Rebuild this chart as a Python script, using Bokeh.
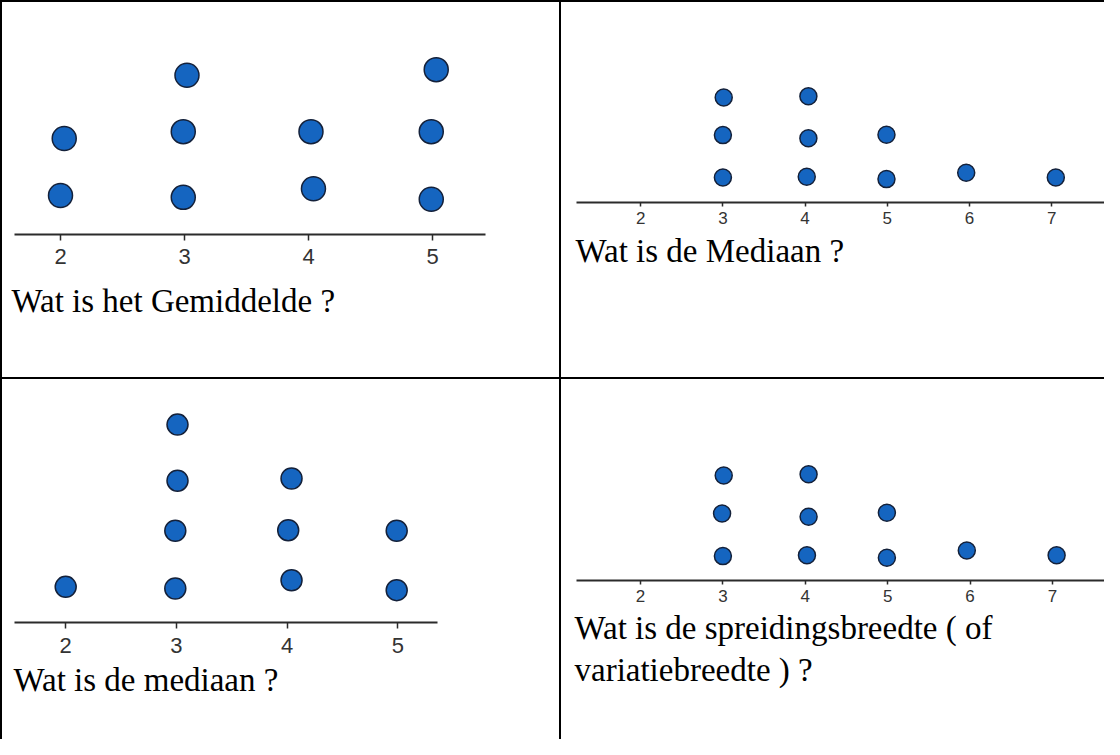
from bokeh.plotting import figure
from bokeh.layouts import column, row
from bokeh.models import Spacer, Title, Range1d, FixedTicker
from bokeh.embed import file_html
from bokeh.resources import INLINE

# ---- data (value on the number line, stack level) ----
q1_x = [2.00, 2.03, 2.99, 2.99, 3.02, 4.04, 4.02, 4.99, 4.99, 5.03]
q1_y = [1.00, 1.92, 0.97, 2.03, 2.94, 1.11, 2.03, 0.94, 2.03, 3.03]
q1_ticks = [2, 3, 4, 5]
q1_text = ["Wat is het Gemiddelde ?"]

q2_x = [3.00, 3.00, 3.01, 4.02, 4.04, 4.04, 4.99, 4.99, 5.96, 7.05]
q2_y = [1.00, 2.06, 3.00, 1.02, 1.98, 3.03, 0.96, 2.07, 1.12, 1.00]
q2_ticks = [2, 3, 4, 5, 6, 7]
q2_text = ["Wat is de Mediaan ?"]

q3_x = [2.00, 2.99, 2.99, 3.01, 3.01, 4.04, 4.01, 4.04, 4.99, 4.99]
q3_y = [1.03, 1.00, 2.05, 2.96, 3.98, 1.15, 2.06, 3.00, 0.97, 2.05]
q3_ticks = [2, 3, 4, 5]
q3_text = ["Wat is de mediaan ?"]

q4_x = [3.00, 2.99, 3.01, 4.02, 4.04, 4.04, 4.99, 4.99, 5.96, 7.05]
q4_y = [1.00, 2.05, 2.99, 1.02, 1.97, 3.02, 0.96, 2.07, 1.14, 1.02]
q4_ticks = [2, 3, 4, 5, 6, 7]
q4_text = ["Wat is de spreidingsbreedte ( of", "variatiebreedte ) ?"]

DOT_FILL = "#1565c0"
DOT_LINE = "#14213a"
LINE = 2
TOP_H, BOT_H = 375, 360
LEFT_W, RIGHT_W = 557, 543


def panel(xs, ys, ticks, texts, w, h, cell_left, cell_top, tick2_px, ppu,
          axis_px, lvl_px, lvl1_px, ax0_px, ax1_px, dot, lab_size, tick_out,
          lab_standoff, text_offset, text_standoff):
    x0 = 2 - (tick2_px - cell_left) / ppu
    x1 = x0 + w / ppu
    frame_h = axis_px - cell_top
    y0 = 1 - lvl1_px / lvl_px
    y1 = y0 + frame_h / lvl_px
    p = figure(width=w, height=h, x_range=Range1d(x0, x1), y_range=Range1d(y0, y1),
               output_backend="svg", toolbar_location=None,
               x_axis_location="below", y_axis_location=None,
               min_border_left=0, min_border_right=0, min_border_top=0,
               min_border_bottom=h - frame_h)
    p.outline_line_color = None
    p.grid.visible = False
    p.background_fill_color = "white"
    p.border_fill_color = "white"
    ax = p.xaxis[0]
    ax.ticker = FixedTicker(ticks=ticks)
    ax.bounds = (x0 + (ax0_px - cell_left) / ppu, x0 + (ax1_px - cell_left) / ppu)
    ax.axis_line_color = "#2b2b2b"
    ax.axis_line_width = 2
    ax.major_tick_line_color = "#2b2b2b"
    ax.major_tick_line_width = 1.5
    ax.major_tick_in = 0
    ax.major_tick_out = tick_out
    ax.minor_tick_line_color = None
    ax.major_label_text_font = "Liberation Sans"
    ax.major_label_text_font_size = f"{lab_size}px"
    ax.major_label_text_color = "#333333"
    ax.major_label_standoff = lab_standoff
    p.scatter(xs, ys, size=dot, fill_color=DOT_FILL, line_color=DOT_LINE, line_width=1.5)
    for i, t in enumerate(texts):
        p.add_layout(Title(text=t, align="left", offset=text_offset,
                           text_font="Liberation Serif", text_font_size="33px",
                           text_font_style="normal", text_color="black",
                           standoff=text_standoff if i == 0 else 0), "below")
    return p


p1 = panel(q1_x, q1_y, q1_ticks, q1_text, LEFT_W, TOP_H, 10, 10, 68, 124,
           242, 62, 39, 22, 493, 24, 22, 6, 8, 9, 28)
p2 = panel(q2_x, q2_y, q2_ticks, q2_text, RIGHT_W, TOP_H, 569, 10, 648.2, 82.2,
           210, 40, 25, 584, 1120, 17, 17, 4, 5, 14, 9)
p3 = panel(q3_x, q3_y, q3_ticks, q3_text, LEFT_W, BOT_H, 10, 387, 73.2, 110.7,
           630, 55, 34, 22, 445, 21, 22, 6, 9, 11, 9)
p4 = panel(q4_x, q4_y, q4_ticks, q4_text, RIGHT_W, BOT_H, 569, 387, 648, 82.4,
           588, 40.5, 24.4, 584, 1120, 17, 17, 4, 5, 13, 7)


def bar(w, h):
    return Spacer(width=w, height=h, styles={"background-color": "black"})


FULL_H = TOP_H + LINE + BOT_H
layout = column(
    bar(LINE + LEFT_W + LINE + RIGHT_W, LINE),
    row(bar(LINE, FULL_H),
        column(p1, bar(LEFT_W, LINE), p3),
        bar(LINE, FULL_H),
        column(p2, bar(RIGHT_W, LINE), p4)),
)

open("out.html", "w").write(file_html(layout, INLINE))
